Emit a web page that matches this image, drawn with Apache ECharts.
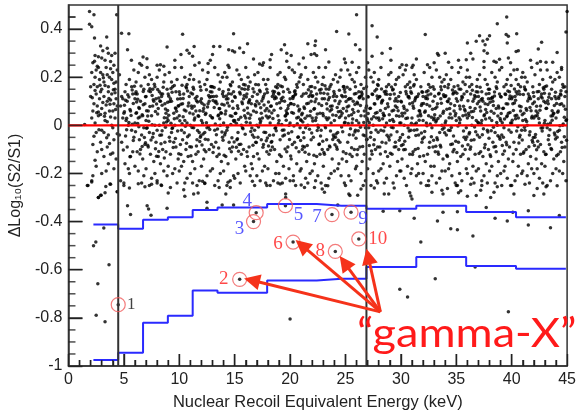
<!DOCTYPE html>
<html><head><meta charset="utf-8">
<script src="https://cdn.jsdelivr.net/npm/echarts@6/dist/echarts.min.js"></script>
<style>html,body{margin:0;padding:0;background:#fff}#c{width:579px;height:416px}</style>
</head><body><div id="c"></div>
<script>
// ---- data ----
const xTicks = [0,5,10,15,20,25,30,35,40,45];
const yTicks = [-1,-0.8,-0.6,-0.4,-0.2,0,0.2,0.4];
const binEdges = [2.25,4.49,6.73,8.97,11.21,13.45,15.69,17.93,20.17,22.41,24.65,26.89,31.39,35.89,40.39,44.89];
const upperBand = [-0.412,-0.430,-0.392,-0.382,-0.352,-0.341,-0.341,-0.327,-0.327,-0.334,-0.334,-0.347,-0.334,-0.360,-0.382];
const lowerBand = [-0.975,-0.945,-0.820,-0.791,-0.686,-0.696,-0.696,-0.645,-0.645,-0.637,-0.637,-0.589,-0.547,-0.585,-0.596];
const cutLines = [4.49, 26.89];
const circledPts = [[4.49,-0.745],[15.45,-0.640],[16.7,-0.400],[16.94,-0.363],[19.58,-0.334],[20.27,-0.485],[23.78,-0.371],[24.08,-0.524],[25.5,-0.361],[26.2,-0.472]];
const circledNames = ['1','2','3','4','5','6','7','8','9','10'];
const arrowFrom = [28.15,-0.775];
const arrowTips = [[16.55,-0.644],[21.05,-0.498],[24.9,-0.570],[27.05,-0.545]];
const annotation = '\u201Cgamma-X\u201D';

const lowCloud = [[2.4,.29],[2.7,.285],[3.0,.28],[3.3,.27],[2.2,.26],[3.8,.265],[4.1,.25],[2.6,.245],[3.5,.32],[3.9,.29],[4.2,.30],
[2.1,.22],[2.5,.23],[2.8,.19],[3.1,.21],[3.4,.24],[3.7,.20],[4.0,.22],[4.3,.18],[2.3,.17],[2.6,.16],[2.9,.22],[3.2,.18],[3.6,.16],[3.9,.19],[4.2,.15],[2.0,.16],[2.4,.20],[3.0,.15],[3.5,.21],[4.4,.23],[2.7,.24],[3.3,.165],[3.8,.235],[4.1,.175],
[2.0,.12],[2.3,.09],[2.5,.13],[2.8,.11],[3.0,.07],[3.2,.12],[3.5,.10],[3.7,.06],[3.9,.13],[4.1,.09],[4.3,.11],[2.2,.06],[2.6,.08],[2.9,.14],[3.3,.05],[3.6,.14],[4.0,.06],[4.4,.08],[2.4,.145],[3.1,.095],[3.8,.105],[4.2,.135],[2.7,.055],[3.4,.085],
[2.1,.03],[2.4,.01],[2.7,.04],[3.0,-.02],[3.3,.02],[3.6,-.04],[3.9,.00],[4.2,.03],[2.5,-.03],[2.9,.045],[3.5,.015],[4.0,-.01],[4.4,-.035],[2.3,-.045],[3.2,-.03],[3.8,.035],
[2.2,-.08],[2.6,-.11],[2.9,-.07],[3.2,-.13],[3.5,-.09],[3.8,-.12],[4.1,-.06],[4.3,-.14],[2.4,-.145],[3.0,-.10],[3.7,-.075],[4.0,-.115],
[2.1,-.23],[2.2,-.21],[2.9,-.29],[3.3,-.28],[3.4,-.19],[3.8,-.245],[4.4,-.276],[2.5,-.17],[3.0,-.20],[3.6,-.16],[4.1,-.18],[2.7,-.30],[1.7,-.25],[1.46,.003],
[2.15,.115],[2.55,.052],[2.85,.167],[3.25,.038],[3.65,.112],[4.05,.148],[3.45,-.052],[2.75,-.018],[4.25,.066],[3.15,.198],[2.35,.266],[3.75,.088]];

const cloudA = [
[4.6,.21],[5.2,.17],[4.8,.12],[5.5,.19],[5.9,.23],[4.7,.08],[5.1,.14],[5.6,.06],[5.3,.10],[5.8,.13],[4.9,.03],[5.4,.00],[5.0,.05],[5.7,-.02],[5.2,.02],[5.9,-.05],[4.6,-.04],[5.3,-.09],[5.6,-.13],[4.8,-.07],[5.1,-.16],[5.8,-.11],[5.5,-.20],[4.7,-.23],[5.4,-.18],[5.0,-.25],[5.7,.16],[4.9,.11],
[6.3,.22],[6.8,.15],[6.1,.18],[6.6,.25],[6.0,.11],[6.4,.07],[6.9,.09],[6.2,.13],[6.7,.04],[6.5,.10],[6.0,.01],[6.8,-.01],[6.3,.03],[6.6,-.04],[6.1,.05],[6.9,-.08],[6.4,-.06],[6.2,-.11],[6.7,-.14],[6.5,-.10],[6.0,-.17],[6.8,-.21],[6.3,-.19],[6.6,-.24],[6.1,.14],[6.9,.20],
[7.1,.24],[7.5,.19],[7.8,.16],[7.3,.21],[7.0,.12],[7.6,.08],[7.9,.11],[7.2,.06],[7.4,.14],[7.7,.10],[7.0,.02],[7.5,.04],[7.3,-.03],[7.8,.00],[7.1,-.01],[7.6,-.05],[7.9,-.07],[7.4,-.12],[7.2,-.09],[7.7,-.15],[7.0,-.18],[7.5,-.22],[7.8,-.20],[7.3,-.25],[7.6,.15],[7.2,.17],
[8.2,.23],[8.6,.18],[8.0,.20],[8.9,.15],[8.4,.12],[8.7,.09],[8.1,.07],[8.5,.13],[8.8,.05],[8.3,.10],[8.6,.01],[8.0,-.02],[8.9,.03],[8.4,-.04],[8.2,.00],[8.7,-.07],[8.5,-.10],[8.1,-.13],[8.8,-.11],[8.3,-.16],[8.6,-.19],[8.0,-.23],[8.9,-.21],[8.4,-.25],[8.7,.21],[8.2,.14],
[9.1,.22],[9.4,.16],[9.8,.19],[9.0,.13],[9.6,.24],[9.3,.10],[9.7,.07],[9.2,.11],[9.9,.08],[9.5,.05],[9.0,.02],[9.4,-.01],[9.8,.03],[9.1,-.05],[9.6,.00],[9.3,-.03],[9.7,-.09],[9.2,-.12],[9.9,-.14],[9.5,-.07],[9.0,-.17],[9.4,-.20],[9.8,-.24],[9.6,-.18],[9.3,.18],[9.7,.14],
[10.2,.24],[10.7,.17],[10.0,.14],[10.5,.20],[10.9,.12],[10.3,.09],[10.6,.06],[10.1,.11],[10.8,.08],[10.4,.13],[10.0,.04],[10.7,.01],[10.2,-.02],[10.5,.02],[10.9,-.04],[10.3,-.06],[10.6,-.10],[10.1,-.08],[10.8,-.13],[10.4,-.15],[10.0,-.19],[10.7,-.22],[10.5,-.24],[10.2,-.17],[10.9,.19],[10.6,.16],
[11.0,.21],[11.4,.25],[11.8,.18],[11.3,.15],[11.6,.12],[11.1,.08],[11.9,.10],[11.5,.06],[11.2,.13],[11.7,.04],[11.0,.00],[11.4,.03],[11.8,-.03],[11.3,-.01],[11.6,-.06],[11.1,-.09],[11.9,-.05],[11.5,-.12],[11.2,-.15],[11.7,-.11],[11.0,-.20],[11.4,-.18],[11.8,-.23],[11.6,-.25],[11.3,.19],[11.9,.16],
[12.1,.23],[12.5,.19],[12.8,.14],[12.3,.17],[12.0,.11],[12.6,.09],[12.9,.12],[12.2,.07],[12.4,.05],[12.7,.10],[12.0,.02],[12.5,-.01],[12.8,.04],[12.3,-.03],[12.1,.01],[12.6,-.06],[12.9,-.08],[12.4,-.11],[12.2,-.14],[12.7,-.10],[12.0,-.17],[12.5,-.21],[12.8,-.19],[12.3,-.24],[12.6,.22],[12.9,.16],
[13.2,.24],[13.7,.18],[13.0,.16],[13.5,.21],[13.9,.13],[13.3,.10],[13.6,.07],[13.1,.12],[13.8,.05],[13.4,.09],[13.0,.03],[13.7,.00],[13.2,-.02],[13.5,.04],[13.9,-.05],[13.3,-.07],[13.6,-.12],[13.1,-.09],[13.8,-.15],[13.4,-.13],[13.0,-.18],[13.7,-.20],[13.5,-.23],[13.2,-.25],[13.9,.20],[13.6,.15],
[14.1,.22],[14.6,.17],[14.3,.20],[14.9,.14],[14.0,.12],[14.5,.08],[14.8,.10],[14.2,.06],[14.7,.13],[14.4,.11],[14.0,.01],[14.6,.04],[14.3,-.02],[14.9,.02],[14.1,-.04],[14.5,-.07],[14.8,-.09],[14.2,-.13],[14.7,-.11],[14.4,-.16],[14.0,-.19],[14.6,-.23],[14.9,-.21],[14.3,-.25],[14.5,.24],[14.8,.18]];

const cloudB = [
[15.2,.23],[15.6,.19],[15.9,.15],[15.4,.21],[15.0,.12],[15.7,.09],[15.3,.07],[15.8,.11],[15.1,.05],[15.5,.13],[15.0,.02],[15.6,.00],[15.9,.04],[15.3,-.03],[15.7,-.01],[15.2,-.06],[15.8,-.10],[15.4,-.08],[15.1,-.14],[15.6,-.12],[15.9,-.17],[15.3,-.20],[15.5,-.24],[15.0,-.22],[15.8,.17],[15.4,.16],
[16.0,.24],[16.4,.18],[16.8,.21],[16.2,.15],[16.6,.12],[16.9,.08],[16.3,.10],[16.7,.06],[16.1,.13],[16.5,.09],[16.0,.03],[16.4,.01],[16.8,-.02],[16.2,.05],[16.6,-.04],[16.9,-.07],[16.3,-.09],[16.7,-.13],[16.1,-.11],[16.5,-.16],[16.0,-.19],[16.4,-.21],[16.8,-.25],[16.6,-.18],[16.2,.20],[16.9,.17],
[17.1,.22],[17.5,.25],[17.8,.17],[17.3,.14],[17.0,.10],[17.6,.12],[17.9,.07],[17.2,.09],[17.4,.05],[17.7,.13],[17.0,.00],[17.5,.03],[17.8,-.03],[17.3,.01],[17.1,-.05],[17.6,-.08],[17.9,-.11],[17.4,-.06],[17.2,-.14],[17.7,-.17],[17.0,-.21],[17.5,-.19],[17.8,-.24],[17.3,-.23],[17.6,.19],[17.9,.15],
[18.2,.24],[18.7,.16],[18.0,.19],[18.5,.13],[18.9,.21],[18.3,.08],[18.6,.11],[18.1,.06],[18.8,.09],[18.4,.12],[18.0,.03],[18.7,-.01],[18.2,.01],[18.5,-.04],[18.9,.04],[18.3,-.07],[18.6,-.10],[18.1,-.12],[18.8,-.15],[18.4,-.09],[18.0,-.18],[18.7,-.20],[18.5,-.23],[18.2,-.25],[18.9,.17],[18.6,.14],
[19.1,.22],[19.6,.19],[19.3,.16],[19.9,.24],[19.0,.13],[19.5,.10],[19.8,.07],[19.2,.11],[19.7,.05],[19.4,.14],[19.0,.02],[19.6,.04],[19.3,-.02],[19.9,.00],[19.1,-.06],[19.5,-.04],[19.8,-.09],[19.2,-.13],[19.7,-.11],[19.4,-.17],[19.0,-.20],[19.6,-.22],[19.9,-.18],[19.3,-.24],[19.5,.20],[19.8,.15],
[20.2,.23],[20.6,.17],[20.9,.20],[20.4,.14],[20.0,.11],[20.7,.08],[20.3,.12],[20.8,.06],[20.1,.09],[20.5,.13],[20.0,.01],[20.6,.03],[20.9,-.01],[20.3,.05],[20.7,-.05],[20.2,-.08],[20.8,-.11],[20.4,-.07],[20.1,-.14],[20.6,-.16],[20.9,-.19],[20.3,-.21],[20.5,-.25],[20.0,-.23],[20.8,.18],[20.4,.22],
[21.0,.21],[21.4,.24],[21.8,.16],[21.2,.13],[21.6,.19],[21.9,.10],[21.3,.07],[21.7,.12],[21.1,.05],[21.5,.09],[21.0,.02],[21.4,-.01],[21.8,.04],[21.2,-.03],[21.6,.00],[21.9,-.06],[21.3,-.09],[21.7,-.12],[21.1,-.10],[21.5,-.15],[21.0,-.18],[21.4,-.22],[21.8,-.20],[21.6,-.24],[21.2,.17],[21.9,.14],
[22.1,.22],[22.5,.18],[22.8,.15],[22.3,.20],[22.0,.12],[22.6,.09],[22.9,.11],[22.2,.07],[22.4,.13],[22.7,.05],[22.0,.03],[22.5,.00],[22.8,-.02],[22.3,.02],[22.1,-.05],[22.6,-.08],[22.9,-.10],[22.4,-.13],[22.2,-.16],[22.7,-.12],[22.0,-.19],[22.5,-.21],[22.8,-.24],[22.3,-.23],[22.6,.24],[22.9,.17],
[23.2,.24],[23.7,.17],[23.0,.20],[23.5,.15],[23.9,.12],[23.3,.09],[23.6,.06],[23.1,.11],[23.8,.08],[23.4,.13],[23.0,.04],[23.7,.01],[23.2,-.01],[23.5,.03],[23.9,-.04],[23.3,-.06],[23.6,-.09],[23.1,-.12],[23.8,-.14],[23.4,-.10],[23.0,-.17],[23.7,-.20],[23.5,-.22],[23.2,-.25],[23.9,.19],[23.6,.16],
[24.1,.21],[24.6,.23],[24.3,.18],[24.9,.15],[24.0,.13],[24.5,.10],[24.8,.07],[24.2,.12],[24.7,.05],[24.4,.09],[24.0,.02],[24.6,.04],[24.3,-.03],[24.9,.01],[24.1,-.05],[24.5,-.07],[24.8,-.11],[24.2,-.09],[24.7,-.14],[24.4,-.16],[24.0,-.19],[24.6,-.21],[24.9,-.24],[24.3,-.18],[24.5,.20],[24.8,.16],
[25.2,.23],[25.6,.19],[25.9,.16],[25.4,.21],[25.0,.12],[25.7,.10],[25.3,.08],[25.8,.13],[25.1,.06],[25.5,.11],[25.0,.03],[25.6,.01],[25.9,-.02],[25.3,.04],[25.7,-.04],[25.2,-.07],[25.8,-.10],[25.4,-.12],[25.1,-.15],[25.6,-.13],[25.9,-.18],[25.3,-.21],[25.5,-.23],[25.0,-.25],[25.8,.18],[25.4,.15],
[26.0,.22],[26.4,.17],[26.8,.20],[26.2,.14],[26.6,.11],[26.9,.08],[26.3,.12],[26.7,.06],[26.1,.09],[26.5,.13],[26.0,.02],[26.4,.04],[26.8,-.01],[26.2,.01],[26.6,-.04],[26.9,-.06],[26.3,-.09],[26.7,-.12],[26.1,-.10],[26.5,-.15],[26.0,-.17],[26.4,-.20],[26.8,-.23],[26.6,-.25],[26.2,.24],[26.9,.16]];

const cloudC = [
[27.1,.23],[27.5,.18],[27.8,.15],[27.3,.20],[27.0,.12],[27.6,.09],[27.9,.11],[27.2,.07],[27.4,.13],[27.7,.05],[27.0,.02],[27.5,.00],[27.8,.03],[27.3,-.03],[27.1,-.01],[27.6,-.06],[27.9,-.09],[27.4,-.12],[27.2,-.14],[27.7,-.10],[27.0,-.18],[27.5,-.20],[27.8,-.23],[27.3,-.25],[27.6,.22],[27.9,.17],
[28.2,.24],[28.7,.16],[28.0,.19],[28.5,.14],[28.9,.21],[28.3,.10],[28.6,.07],[28.1,.12],[28.8,.09],[28.4,.05],[28.0,.03],[28.7,.01],[28.2,-.02],[28.5,.04],[28.9,-.05],[28.3,-.07],[28.6,-.11],[28.1,-.09],[28.8,-.13],[28.4,-.16],[28.0,-.19],[28.7,-.22],[28.5,-.24],[28.2,-.18],[28.9,.17],[28.6,.13],
[29.1,.22],[29.6,.19],[29.3,.15],[29.9,.24],[29.0,.11],[29.5,.08],[29.8,.12],[29.2,.06],[29.7,.10],[29.4,.13],[29.0,.02],[29.6,.04],[29.3,-.01],[29.9,.01],[29.1,-.04],[29.5,-.07],[29.8,-.10],[29.2,-.12],[29.7,-.15],[29.4,-.09],[29.0,-.17],[29.6,-.21],[29.9,-.19],[29.3,-.24],[29.5,.17],[29.8,.20],
[30.2,.21],[30.6,.17],[30.9,.14],[30.4,.23],[30.0,.10],[30.7,.12],[30.3,.07],[30.8,.09],[30.1,.05],[30.5,.13],[30.0,.01],[30.6,.03],[30.9,-.02],[30.3,.00],[30.7,-.05],[30.2,-.08],[30.8,-.12],[30.4,-.10],[30.1,-.14],[30.6,-.17],[30.9,-.20],[30.3,-.22],[30.5,-.25],[30.0,-.19],[30.8,.18],[30.4,.16],
[31.0,.24],[31.4,.19],[31.8,.16],[31.2,.21],[31.6,.13],[31.9,.09],[31.3,.11],[31.7,.06],[31.1,.08],[31.5,.12],[31.0,.03],[31.4,.01],[31.8,.04],[31.2,-.02],[31.6,-.04],[31.9,-.07],[31.3,-.10],[31.7,-.13],[31.1,-.11],[31.5,-.16],[31.0,-.18],[31.4,-.21],[31.8,-.24],[31.6,-.20],[31.2,.17],[31.9,.14],
[32.1,.22],[32.5,.17],[32.8,.20],[32.3,.14],[32.0,.12],[32.6,.08],[32.9,.10],[32.2,.06],[32.4,.11],[32.7,.13],[32.0,.02],[32.5,.04],[32.8,-.01],[32.3,.01],[32.1,-.05],[32.6,-.07],[32.9,-.09],[32.4,-.12],[32.2,-.15],[32.7,-.17],[32.0,-.20],[32.5,-.23],[32.8,-.21],[32.3,-.25],[32.6,.24],[32.9,.16],
[33.2,.23],[33.7,.18],[33.0,.15],[33.5,.20],[33.9,.12],[33.3,.09],[33.6,.11],[33.1,.07],[33.8,.05],[33.4,.13],[33.0,.03],[33.7,.00],[33.2,.02],[33.5,-.03],[33.9,-.01],[33.3,-.06],[33.6,-.09],[33.1,-.11],[33.8,-.14],[33.4,-.12],[33.0,-.17],[33.7,-.19],[33.5,-.22],[33.2,-.24],[33.9,.19],[33.6,.16],
[34.1,.21],[34.6,.24],[34.3,.17],[34.9,.14],[34.0,.12],[34.5,.09],[34.8,.06],[34.2,.10],[34.7,.13],[34.4,.07],[34.0,.01],[34.6,.03],[34.3,-.02],[34.9,.04],[34.1,-.04],[34.5,-.08],[34.8,-.10],[34.2,-.13],[34.7,-.11],[34.4,-.16],[34.0,-.19],[34.6,-.21],[34.9,-.24],[34.3,-.18],[34.5,.19],[34.8,.16],
[35.2,.22],[35.6,.18],[35.9,.20],[35.4,.15],[35.0,.11],[35.7,.13],[35.3,.08],[35.8,.06],[35.1,.10],[35.5,.12],[35.0,.02],[35.6,.04],[35.9,-.01],[35.3,.01],[35.7,-.05],[35.2,-.07],[35.8,-.10],[35.4,-.13],[35.1,-.15],[35.6,-.12],[35.9,-.18],[35.3,-.20],[35.5,-.23],[35.0,-.25],[35.8,.17],[35.4,.24],
[36.0,.23],[36.4,.17],[36.8,.14],[36.2,.20],[36.6,.11],[36.9,.09],[36.3,.13],[36.7,.07],[36.1,.05],[36.5,.10],[36.0,.03],[36.4,.00],[36.8,.02],[36.2,-.03],[36.6,-.06],[36.9,-.04],[36.3,-.09],[36.7,-.12],[36.1,-.14],[36.5,-.17],[36.0,-.20],[36.4,-.22],[36.8,-.19],[36.6,-.24],[36.2,.16],[36.9,.19],
[37.1,.21],[37.5,.24],[37.8,.17],[37.3,.14],[37.0,.12],[37.6,.09],[37.9,.11],[37.2,.06],[37.4,.10],[37.7,.13],[37.0,.01],[37.5,.04],[37.8,-.02],[37.3,.02],[37.1,-.05],[37.6,-.08],[37.9,-.10],[37.4,-.13],[37.2,-.11],[37.7,-.16],[37.0,-.18],[37.5,-.21],[37.8,-.24],[37.3,-.23],[37.6,.19],[37.9,.15],
[38.2,.22],[38.7,.18],[38.0,.15],[38.5,.20],[38.9,.13],[38.3,.10],[38.6,.07],[38.1,.11],[38.8,.08],[38.4,.05],[38.0,.03],[38.7,.00],[38.2,.02],[38.5,-.03],[38.9,-.05],[38.3,-.07],[38.6,-.11],[38.1,-.13],[38.8,-.15],[38.4,-.09],[38.0,-.19],[38.7,-.21],[38.5,-.24],[38.2,-.17],[38.9,.23],[38.6,.16],
[39.1,.24],[39.6,.19],[39.3,.16],[39.9,.21],[39.0,.12],[39.5,.09],[39.8,.11],[39.2,.07],[39.7,.05],[39.4,.13],[39.0,.02],[39.6,.04],[39.3,-.01],[39.9,.01],[39.1,-.04],[39.5,-.07],[39.8,-.09],[39.2,-.12],[39.7,-.14],[39.4,-.17],[39.0,-.20],[39.6,-.22],[39.9,-.25],[39.3,-.19],[39.5,.17],[39.8,.14],
[40.2,.23],[40.6,.17],[40.9,.20],[40.4,.14],[40.0,.11],[40.7,.08],[40.3,.12],[40.8,.06],[40.1,.09],[40.5,.13],[40.0,.01],[40.6,.03],[40.9,-.02],[40.3,.04],[40.7,-.05],[40.2,-.07],[40.8,-.12],[40.4,-.10],[40.1,-.15],[40.6,-.17],[40.9,-.20],[40.3,-.23],[40.5,-.21],[40.0,-.25],[40.8,.16],[40.4,.19],
[41.0,.22],[41.4,.18],[41.8,.24],[41.2,.15],[41.6,.12],[41.9,.09],[41.3,.07],[41.7,.11],[41.1,.05],[41.5,.13],[41.0,.02],[41.4,.00],[41.8,.03],[41.2,-.02],[41.6,-.04],[41.9,-.07],[41.3,-.10],[41.7,-.13],[41.1,-.11],[41.5,-.16],[41.0,-.19],[41.4,-.21],[41.8,-.18],[41.6,-.24],[41.2,.20],[41.9,.16],
[42.1,.21],[42.5,.17],[42.8,.19],[42.3,.14],[42.0,.12],[42.6,.08],[42.9,.10],[42.2,.06],[42.4,.11],[42.7,.13],[42.0,.03],[42.5,.01],[42.8,-.01],[42.3,.04],[42.1,-.05],[42.6,-.08],[42.9,-.11],[42.4,-.09],[42.2,-.14],[42.7,-.16],[42.0,-.20],[42.5,-.22],[42.8,-.24],[42.3,-.18],[42.6,.23],[42.9,.15],
[43.2,.23],[43.7,.18],[43.0,.16],[43.5,.20],[43.9,.12],[43.3,.09],[43.6,.11],[43.1,.07],[43.8,.05],[43.4,.13],[43.0,.02],[43.7,.04],[43.2,-.01],[43.5,.01],[43.9,-.04],[43.3,-.06],[43.6,-.10],[43.1,-.12],[43.8,-.14],[43.4,-.08],[43.0,-.17],[43.7,-.20],[43.5,-.23],[43.2,-.25],[43.9,.19],[43.6,.15],
[44.1,.22],[44.6,.17],[44.3,.20],[44.9,.14],[44.0,.11],[44.5,.09],[44.8,.12],[44.2,.06],[44.7,.08],[44.4,.13],[44.0,.03],[44.6,.00],[44.3,-.02],[44.9,.02],[44.1,-.05],[44.5,-.07],[44.8,-.09],[44.2,-.12],[44.7,-.15],[44.4,-.11],[44.0,-.18],[44.6,-.20],[44.9,-.23],[44.3,-.19],[44.5,.24],[44.8,.16]];

const coreA = [
[5.05,.083],[5.35,.127],[5.65,.041],[5.95,.162],[5.25,-.018],[5.55,.066],[5.85,-.063],[5.15,.104],[5.45,.012],[5.75,.147],[4.95,-.102],[5.25,.029],[5.55,-.131],[5.85,.091],[5.15,-.044],[5.45,.118],[5.75,.004],[5.05,.056],
[6.15,.097],[6.45,.035],[6.75,.141],[6.05,-.027],[6.35,.074],[6.65,-.088],[6.95,.119],[6.25,.008],[6.55,.163],[6.85,-.051],[6.15,.052],[6.45,-.119],[6.75,.086],[6.05,.131],[6.35,-.006],[6.65,.044],[6.95,-.072],[6.25,.108],
[7.05,.061],[7.35,.152],[7.65,-.034],[7.95,.089],[7.25,.017],[7.55,.124],[7.85,-.097],[7.15,.039],[7.45,-.061],[7.75,.171],[7.05,-.012],[7.35,.078],[7.65,.106],[7.95,-.128],[7.25,.143],[7.55,.002],[7.85,.057],[7.15,-.083],
[8.15,.114],[8.45,-.022],[8.75,.068],[8.05,.149],[8.35,-.077],[8.65,.031],[8.95,.096],[8.25,-.041],[8.55,.158],[8.85,.014],[8.15,-.109],[8.45,.083],[8.75,-.008],[8.05,.047],[8.35,.131],[8.65,-.136],[8.95,.062],[8.25,.101],
[9.05,.042],[9.35,.137],[9.65,-.055],[9.95,.081],[9.25,.009],[9.55,.166],[9.85,-.024],[9.15,.099],[9.45,-.092],[9.75,.058],[9.05,.121],[9.35,-.013],[9.65,.072],[9.95,-.118],[9.25,.153],[9.55,.027],[9.85,.109],[9.15,-.066],
[10.15,.088],[10.45,-.031],[10.75,.143],[10.05,.019],[10.35,.112],[10.65,-.074],[10.95,.051],[10.25,.167],[10.55,-.004],[10.85,.093],[10.15,-.121],[10.45,.064],[10.75,-.047],[10.05,.128],[10.35,.036],[10.65,.155],[10.95,-.089],[10.25,.007],
[11.05,.134],[11.35,.022],[11.65,.097],[11.95,-.043],[11.25,.158],[11.55,-.086],[11.85,.061],[11.15,-.009],[11.45,.113],[11.75,.038],[11.05,-.126],[11.35,.079],[11.65,-.021],[11.95,.146],[11.25,.047],[11.55,.102],[11.85,-.067],[11.15,.071],
[12.15,.059],[12.45,.148],[12.75,-.017],[12.05,.092],[12.35,-.058],[12.65,.124],[12.95,.033],[12.25,-.101],[12.55,.076],[12.85,.161],[12.15,-.036],[12.45,.011],[12.75,.117],[12.05,-.082],[12.35,.045],[12.65,-.006],[12.95,.138],[12.25,.084],
[13.05,.103],[13.35,-.039],[13.65,.069],[13.95,.141],[13.25,.006],[13.55,-.094],[13.85,.088],[13.15,.157],[13.45,-.015],[13.75,.052],[13.05,-.113],[13.35,.121],[13.65,.027],[13.95,-.062],[13.25,.096],[13.55,.043],[13.85,-.028],[13.15,.074],
[14.15,.047],[14.45,.131],[14.75,-.052],[14.05,.085],[14.35,-.008],[14.65,.164],[14.95,.016],[14.25,.109],[14.55,-.097],[14.85,.071],[14.15,-.031],[14.45,.148],[14.75,.038],[14.05,-.124],[14.35,.093],[14.65,.003],[14.95,-.069],[14.25,.122]];

const coreB = [
[15.05,.116],[15.35,.024],[15.65,.152],[15.95,-.037],[15.25,.081],[15.55,-.079],[15.85,.063],[15.15,.009],[15.45,.137],[15.75,-.014],[15.05,.049],[15.35,-.108],[15.65,.097],[15.95,.168],[15.25,-.056],[15.55,.034],[15.85,.124],[15.15,-.091],
[16.15,.072],[16.45,-.026],[16.75,.139],[16.05,.013],[16.35,.106],[16.65,-.083],[16.95,.054],[16.25,.161],[16.55,-.011],[16.85,.087],[16.15,-.129],[16.45,.043],[16.75,-.049],[16.05,.118],[16.35,.029],[16.65,.152],[16.95,-.071],[16.25,.094],
[17.05,.129],[17.35,.018],[17.65,.084],[17.95,-.053],[17.25,.146],[17.55,-.091],[17.85,.039],[17.15,-.007],[17.45,.101],[17.75,.061],[17.05,-.118],[17.35,.073],[17.65,-.029],[17.95,.136],[17.25,.026],[17.55,.111],[17.85,-.064],[17.15,.169],
[18.15,.036],[18.45,.142],[18.75,-.022],[18.05,.097],[18.35,-.067],[18.65,.119],[18.95,.008],[18.25,-.104],[18.55,.063],[18.85,.156],[18.15,-.041],[18.45,.028],[18.75,.114],[18.05,-.086],[18.35,.051],[18.65,-.012],[18.95,.133],[18.25,.079],
[19.05,.094],[19.35,-.044],[19.65,.061],[19.95,.137],[19.25,.003],[19.55,-.098],[19.85,.082],[19.15,.163],[19.45,-.019],[19.75,.048],[19.05,-.122],[19.35,.117],[19.65,.021],[19.95,-.059],[19.25,.102],[19.55,.039],[19.85,-.033],[19.15,.071],
[20.15,.053],[20.45,.127],[20.75,-.048],[20.05,.091],[20.35,-.003],[20.65,.158],[20.95,.023],[20.25,.112],[20.55,-.093],[20.85,.067],[20.15,-.027],[20.45,.144],[20.75,.034],[20.05,-.127],[20.35,.087],[20.65,.007],[20.95,-.063],[20.25,.119],
[21.05,.121],[21.35,.029],[21.65,.148],[21.95,-.032],[21.25,.076],[21.55,-.084],[21.85,.058],[21.15,.014],[21.45,.133],[21.75,-.016],[21.05,.044],[21.35,-.112],[21.65,.092],[21.95,.161],[21.25,-.052],[21.55,.039],[21.85,.127],[21.15,-.087],
[22.15,.067],[22.45,-.021],[22.75,.134],[22.05,.018],[22.35,.109],[22.65,-.078],[22.95,.049],[22.25,.156],[22.55,-.009],[22.85,.082],[22.15,-.124],[22.45,.047],[22.75,-.044],[22.05,.123],[22.35,.032],[22.65,.147],[22.95,-.066],[22.25,.098],
[23.05,.133],[23.35,.023],[23.65,.079],[23.95,-.048],[23.25,.151],[23.55,-.086],[23.85,.043],[23.15,-.003],[23.45,.106],[23.75,.066],[23.05,-.113],[23.35,.068],[23.65,-.024],[23.95,.141],[23.25,.031],[23.55,.116],[23.85,-.059],[23.15,.164],
[24.15,.041],[24.45,.146],[24.75,-.027],[24.05,.102],[24.35,-.062],[24.65,.124],[24.95,.013],[24.25,-.099],[24.55,.058],[24.85,.161],[24.15,-.036],[24.45,.033],[24.75,.119],[24.05,-.081],[24.35,.056],[24.65,-.007],[24.95,.138],[24.25,.074],
[25.05,.099],[25.35,-.039],[25.65,.066],[25.95,.132],[25.25,.008],[25.55,-.093],[25.85,.087],[25.15,.158],[25.45,-.014],[25.75,.053],[25.05,-.117],[25.35,.112],[25.65,.026],[25.95,-.054],[25.25,.107],[25.55,.044],[25.85,-.028],[25.15,.076],
[26.15,.058],[26.45,.122],[26.75,-.043],[26.05,.096],[26.35,-.008],[26.65,.153],[26.95,.028],[26.25,.117],[26.55,-.088],[26.85,.072],[26.15,-.022],[26.45,.139],[26.75,.039],[26.05,-.122],[26.35,.082],[26.65,.012],[26.95,-.058],[26.25,.114]];

const coreC = [
[27.05,.118],[27.35,.026],[27.65,.143],[27.95,-.029],[27.25,.071],[27.55,-.081],[27.85,.053],[27.15,.011],[27.45,.128],[27.75,-.019],[27.05,.049],[27.35,-.107],[27.65,.089],[27.95,.166],[27.25,-.049],[27.55,.036],[27.85,.122],[27.15,-.084],
[28.15,.062],[28.45,-.024],[28.75,.129],[28.05,.021],[28.35,.104],[28.65,-.073],[28.95,.044],[28.25,.151],[28.55,-.006],[28.85,.077],[28.15,-.119],[28.45,.042],[28.75,-.041],[28.05,.118],[28.35,.027],[28.65,.142],[28.95,-.061],[28.25,.093],
[29.05,.128],[29.35,.016],[29.65,.074],[29.95,-.051],[29.25,.147],[29.55,-.089],[29.85,.038],[29.15,-.008],[29.45,.101],[29.75,.061],[29.05,-.116],[29.35,.063],[29.65,-.027],[29.95,.136],[29.25,.024],[29.55,.111],[29.85,-.062],[29.15,.159],
[30.15,.039],[30.45,.141],[30.75,-.024],[30.05,.097],[30.35,-.066],[30.65,.119],[30.95,.009],[30.25,-.101],[30.55,.063],[30.85,.156],[30.15,-.038],[30.45,.028],[30.75,.114],[30.05,-.084],[30.35,.051],[30.65,-.011],[30.95,.133],[30.25,.079],
[31.05,.094],[31.35,-.042],[31.65,.061],[31.95,.137],[31.25,.004],[31.55,-.096],[31.85,.082],[31.15,.163],[31.45,-.018],[31.75,.048],[31.05,-.121],[31.35,.117],[31.65,.021],[31.95,-.057],[31.25,.102],[31.55,.039],[31.85,-.032],[31.15,.071],
[32.15,.054],[32.45,.126],[32.75,-.047],[32.05,.091],[32.35,-.002],[32.65,.158],[32.95,.023],[32.25,.112],[32.55,-.092],[32.85,.067],[32.15,-.026],[32.45,.144],[32.75,.034],[32.05,-.126],[32.35,.087],[32.65,.006],[32.95,-.062],[32.25,.119],
[33.05,.121],[33.35,.028],[33.65,.148],[33.95,-.031],[33.25,.076],[33.55,-.083],[33.85,.058],[33.15,.014],[33.45,.133],[33.75,-.016],[33.05,.044],[33.35,-.111],[33.65,.092],[33.95,.161],[33.25,-.052],[33.55,.039],[33.85,.127],[33.15,-.087],
[34.15,.067],[34.45,-.021],[34.75,.134],[34.05,.018],[34.35,.109],[34.65,-.078],[34.95,.049],[34.25,.156],[34.55,-.009],[34.85,.082],[34.15,-.124],[34.45,.047],[34.75,-.044],[34.05,.123],[34.35,.032],[34.65,.147],[34.95,-.066],[34.25,.098],
[35.05,.133],[35.35,.023],[35.65,.079],[35.95,-.048],[35.25,.151],[35.55,-.086],[35.85,.043],[35.15,-.003],[35.45,.106],[35.75,.066],[35.05,-.113],[35.35,.068],[35.65,-.024],[35.95,.141],[35.25,.031],[35.55,.116],[35.85,-.059],[35.15,.164],
[36.15,.041],[36.45,.146],[36.75,-.027],[36.05,.102],[36.35,-.062],[36.65,.124],[36.95,.013],[36.25,-.099],[36.55,.058],[36.85,.161],[36.15,-.036],[36.45,.033],[36.75,.119],[36.05,-.081],[36.35,.056],[36.65,-.007],[36.95,.138],[36.25,.074],
[37.05,.099],[37.35,-.039],[37.65,.066],[37.95,.132],[37.25,.008],[37.55,-.093],[37.85,.087],[37.15,.158],[37.45,-.014],[37.75,.053],[37.05,-.117],[37.35,.112],[37.65,.026],[37.95,-.054],[37.25,.107],[37.55,.044],[37.85,-.028],[37.15,.076],
[38.15,.058],[38.45,.122],[38.75,-.043],[38.05,.096],[38.35,-.008],[38.65,.153],[38.95,.028],[38.25,.117],[38.55,-.088],[38.85,.072],[38.15,-.022],[38.45,.139],[38.75,.039],[38.05,-.122],[38.35,.082],[38.65,.012],[38.95,-.058],[38.25,.114],
[39.05,.118],[39.35,.026],[39.65,.143],[39.95,-.029],[39.25,.071],[39.55,-.081],[39.85,.053],[39.15,.011],[39.45,.128],[39.75,-.019],[39.05,.049],[39.35,-.107],[39.65,.089],[39.95,.166],[39.25,-.049],[39.55,.036],[39.85,.122],[39.15,-.084],
[40.15,.062],[40.45,-.024],[40.75,.129],[40.05,.021],[40.35,.104],[40.65,-.073],[40.95,.044],[40.25,.151],[40.55,-.006],[40.85,.077],[40.15,-.119],[40.45,.042],[40.75,-.041],[40.05,.118],[40.35,.027],[40.65,.142],[40.95,-.061],[40.25,.093],
[41.05,.128],[41.35,.016],[41.65,.074],[41.95,-.051],[41.25,.147],[41.55,-.089],[41.85,.038],[41.15,-.008],[41.45,.101],[41.75,.061],[41.05,-.116],[41.35,.063],[41.65,-.027],[41.95,.136],[41.25,.024],[41.55,.111],[41.85,-.062],[41.15,.159],
[42.15,.039],[42.45,.141],[42.75,-.024],[42.05,.097],[42.35,-.066],[42.65,.119],[42.95,.009],[42.25,-.101],[42.55,.063],[42.85,.156],[42.15,-.038],[42.45,.028],[42.75,.114],[42.05,-.084],[42.35,.051],[42.65,-.011],[42.95,.133],[42.25,.079],
[43.05,.094],[43.35,-.042],[43.65,.061],[43.95,.137],[43.25,.004],[43.55,-.096],[43.85,.082],[43.15,.163],[43.45,-.018],[43.75,.048],[43.05,-.121],[43.35,.117],[43.65,.021],[43.95,-.057],[43.25,.102],[43.55,.039],[43.85,-.032],[43.15,.071],
[44.15,.054],[44.45,.126],[44.75,-.047],[44.05,.091],[44.35,-.002],[44.65,.158],[44.95,.023],[44.25,.112],[44.55,-.092],[44.85,.067],[44.15,-.026],[44.45,.144],[44.75,.034],[44.05,-.126],[44.35,.087],[44.65,.006],[44.95,-.062],[44.25,.119]];

const topPts = [[1.9,.473],[2.3,.459],[1.9,.42],[2.1,.41],[2.35,.363],[2.9,.33],[3.45,.367],[3.1,.31],[3.6,.30],[4.35,.459],[4.79,.383],[5.45,.381],[5.33,.314],[5.68,.27],[6.43,.257],[6.73,.284],[7.08,.277],[8.0,.25],[8.3,.252],[8.6,.245],[8.9,.326],[10.3,.378],[10.15,.294],[10.7,.312],[10.9,.30],[11.2,.287],[11.34,.328],[12.6,.257],[13.0,.294],[13.1,.328],[13.66,.328],[12.8,.27],[14.46,.314],[14.9,.381],[14.8,.31],[15.0,.305],[15.45,.321],[15.8,.303],[16.16,.339],[14.4,.25],[16.7,.276],[17.25,.255],[17.6,.26],[18.2,.273],[18.33,.294],[19.2,.314],[19.5,.335],[19.7,.30],[19.7,.266],[20.1,.29],[21.6,.339],[21.9,.294],[22.3,.35],[22.25,.332],[23.2,.314],[22.2,.297],[22.4,.29],[24.2,.39],[25.3,.379],[26.0,.459],[25.9,.335],[26.3,.314],[27.4,.414],[27.86,.367],[29.05,.319],[29.1,.27],[27.4,.287],[31.4,.276],[32.2,.377],[33.3,.298],[33.4,.291],[34.0,.30],[36.0,.342],[36.8,.349],[37.1,.372],[37.6,.335],[38.0,.372],[38.7,.422],[37.8,.30],[36.3,.30],[39.55,.45],[45.0,.473],[44.9,.388],[39.5,.377],[39.7,.37],[40.45,.381],[37.8,.358],[39.6,.342],[42.7,.345],[42.4,.317],[44.1,.303],[40.4,.307],[40.6,.31],[41.7,.27],[42.6,.265],[43.1,.262],[43.7,.262],[39.7,.28],[39.9,.26],[38.9,.275],[38.6,.262],[37.5,.31],[37.4,.35],[37.5,.265],[40.5,.232],[42.3,.258],[44.5,.232],[23.5,.263],[24.9,.276],[25.0,.26],[25.6,.262],[30.1,.252],[30.5,.25],[31.1,.25],[32.4,.252],[34.3,.262],[35.2,.27],[35.9,.273],[36.5,.276],[38.4,.266],[9.6,.27],[11.8,.26],[20.8,.255],[21.2,.28],[27.0,.26],[28.3,.30],[33.0,.26]];

const edgePts = [[5.33,-.334],[5.6,-.37],[7.1,-.334],[7.23,-.348],[7.45,-.374],[8.9,-.345],[12.5,-.32],[12.5,-.345],[13.87,-.331],[14.9,-.331],[1.76,-.25],[2.1,-.235],[2.7,-.30],[2.95,-.29],[3.37,-.254],[3.75,-.244],[4.4,-.276],[5.0,-.24],[5.5,-.26],[6.3,-.243],[6.9,-.255],[7.5,-.245],[8.0,-.24],[8.36,-.248],[9.2,-.258],[9.0,-.281],[10.4,-.268],[10.5,-.295],[11.2,-.24],[11.3,-.285],[11.7,-.281],[12.1,-.232],[12.3,-.242],[13.6,-.258],[14.2,-.285],[14.6,-.258],[14.4,-.237],[16.6,-.232],[19.6,-.30],[19.6,-.285],[19.1,-.244],[20.3,-.23],[21.0,-.248],[21.3,-.258],[22.2,-.258],[22.9,-.265],[23.1,-.278],[23.4,-.251],[25.3,-.285],[25.4,-.292],[26.1,-.29],[26.4,-.265],[24.3,-.331],[17.9,-.25],[18.9,-.24],
[28.5,-.285],[29.4,-.26],[30.9,-.294],[31.0,-.306],[30.8,-.28],[32.8,-.278],[32.5,-.25],[33.8,-.285],[33.7,-.27],[35.2,-.28],[35.1,-.25],[35.4,-.272],[36.0,-.295],[36.8,-.292],[37.2,-.27],[37.3,-.25],[38.1,-.30],[38.4,-.278],[38.7,-.255],[39.1,-.25],[40.2,-.285],[41.2,-.245],[42.0,-.292],[42.3,-.262],[42.9,-.285],[43.1,-.255],[44.1,-.251],[28.9,-.285],[27.6,-.26],[27.9,-.24],[34.2,-.262],[36.3,-.245]];

const outliers = [[28.4,-.357],[29.9,-.355],[31.2,-.386],[33.8,-.361],[35.1,-.359],[33.3,-.398],[34.5,-.43],[35.1,-.434],[31.8,-.485],[36.5,-.46],[37.7,-.341],[38.5,-.386],[39.6,-.398],[40.1,-.361],[41.5,-.355],[41.5,-.414],[43.5,-.426],[44.3,-.375],[36.7,-.589],[33.1,-.637],[29.9,-.681],[30.6,-.713],[39.7,-.775],[20.0,-.805],[2.26,-.50],[2.47,-.485],[3.19,-.427],[3.66,-.579],[2.65,-.658],[2.5,-.789],[3.3,-.816]];

// ---- build ----
const allPts = [].concat(lowCloud, cloudA, cloudB, cloudC, coreA, coreB, coreC, topPts, edgePts, outliers, circledPts);
function stepLine(vals){ const d=[]; vals.forEach((v,i)=>{ d.push([binEdges[i],v]); d.push([binEdges[i+1],v]); }); return d; }
const BLUE='#2a2aff', RED='#ff1a1a';
const labelStyle = [
 {c:'#111',o:[13,0],s:17},{c:RED,o:[-16,0],s:19},{c:BLUE,o:[-14,7],s:19},{c:BLUE,o:[-9,-12],s:19},{c:BLUE,o:[13,9],s:19},
 {c:RED,o:[-15,2],s:19},{c:BLUE,o:[-15,2],s:19},{c:RED,o:[-15,0],s:19},{c:BLUE,o:[12,7],s:19},{c:RED,o:[19,0],s:19}];
const circleData = circledPts.map((p,i)=>({value:p,label:{show:true,formatter:circledNames[i],position:'inside',offset:labelStyle[i].o,color:labelStyle[i].c,fontSize:labelStyle[i].s,fontFamily:'Liberation Serif'}}));

const xMin=xTicks[0], xMax=xTicks[xTicks.length-1], yMin=yTicks[0], yMax=0.5;

// tick marks drawn as thin rectangle symbols anchored on the frame
const xMajorPts = xTicks.slice(1,-1).map(v=>[v,yMin]);
const xMinorPts = [];
for(let i=0;i<xTicks.length-1;i++){ for(let k=1;k<5;k++) xMinorPts.push([xTicks[i]+k,yMin]); }
const yMajorPts = yTicks.slice(1).map(v=>[xMin,v]);
const yMinorPts = [];
for(let i=0;i<yTicks.length;i++){ for(let k=1;k<4;k++){ const v=+(yTicks[i]+k*0.05).toFixed(3); if(v<yMax) yMinorPts.push([xMin,v]); } }
yMinorPts.push([xMin,0.45]);
function tickSeries(pts,w,h,ox,oy){ return {type:'scatter',data:pts,symbol:'rect',symbolSize:[w,h],symbolOffset:[ox,oy],clip:false,silent:true,z:9,itemStyle:{color:'#222'}}; }

const chart = echarts.init(document.getElementById('c'),null,{renderer:'canvas'});
const tickLine={color:'#222',width:1.4};
chart.setOption({
 animation:false,
 backgroundColor:'#fff',
 grid:{left:63,right:11,top:5,bottom:48,show:true,borderColor:'#333',borderWidth:1.5,backgroundColor:'transparent'},
 xAxis:[{type:'value',min:xMin,max:xMax,interval:xTicks[1]-xTicks[0],
   axisLine:{show:true,onZero:false,lineStyle:{color:'#333',width:1.5}},splitLine:{show:false},
   axisTick:{show:true,inside:true,length:12,lineStyle:tickLine},
   minorTick:{show:true,splitNumber:5,length:6,lineStyle:tickLine},
   axisLabel:{fontSize:16,color:'#222',margin:6,fontFamily:'Liberation Sans'},
   name:'Nuclear Recoil Equivalent Energy (keV)',nameLocation:'middle',nameGap:28,
   nameTextStyle:{fontSize:16.5,color:'#222',fontFamily:'Liberation Sans'}}],
 yAxis:[{type:'value',min:yMin,max:yMax,interval:0.2,
   axisLine:{show:true,onZero:false,lineStyle:{color:'#333',width:1.5}},splitLine:{show:false},
   axisTick:{show:true,inside:true,length:14,lineStyle:tickLine},
   axisLabel:{fontSize:16,color:'#222',margin:6,fontFamily:'Liberation Sans',showMaxLabel:false,
     formatter:v=>{const r=Math.round(v*10)/10; return yTicks.some(t=>Math.abs(t-r)<1e-6)?String(r):'';}},
   name:'\u0394Log\u2081\u2080(S2/S1)',nameLocation:'middle',nameGap:30,
   nameTextStyle:{fontSize:16,color:'#222',fontFamily:'Liberation Sans'}}],
 series:[
  {type:'scatter',data:allPts,symbolSize:3.5,itemStyle:{color:'#000'},z:2,silent:true,large:false},
  {type:'line',data:[[0,0],[45,0]],symbol:'none',lineStyle:{color:'#ff0000',width:2.2},z:4},
  {type:'line',data:stepLine(upperBand),symbol:'none',lineStyle:{color:BLUE,width:2},z:4},
  {type:'line',data:stepLine(lowerBand),symbol:'none',lineStyle:{color:BLUE,width:2},z:4},
  {type:'line',data:[[cutLines[0],yMin],[cutLines[0],yMax]],symbol:'none',lineStyle:{color:'#333',width:2},z:5},
  {type:'line',data:[[cutLines[1],yMin],[cutLines[1],yMax]],symbol:'none',lineStyle:{color:'#333',width:2},z:5},
  {type:'scatter',data:circleData,symbol:'circle',symbolSize:14,itemStyle:{color:'rgba(0,0,0,0)',borderColor:'#f05a5a',borderWidth:1.2},z:6},
  {type:'lines',coordinateSystem:'cartesian2d',data:arrowTips.map(t=>({coords:[arrowFrom,t]})),
   symbol:['none','triangle'],symbolSize:[0,16],lineStyle:{color:'#f5321a',width:3,opacity:1,curveness:0},z:7},
  tickSeries(xMajorPts,1.5,12,0,-6),
  tickSeries(xMinorPts,1.5,6,0,-3),
  tickSeries(yMajorPts,14,1.5,7,0),
  tickSeries(yMinorPts,7,1.5,3.5,0)
 ],
 graphic:[{type:'text',x:357,y:334,scaleX:1.1,z:30,style:{text:annotation,font:'41px Lato',fill:'#ff1a1a',verticalAlign:'middle',textVerticalAlign:'middle'}}]
});
</script></body></html>
